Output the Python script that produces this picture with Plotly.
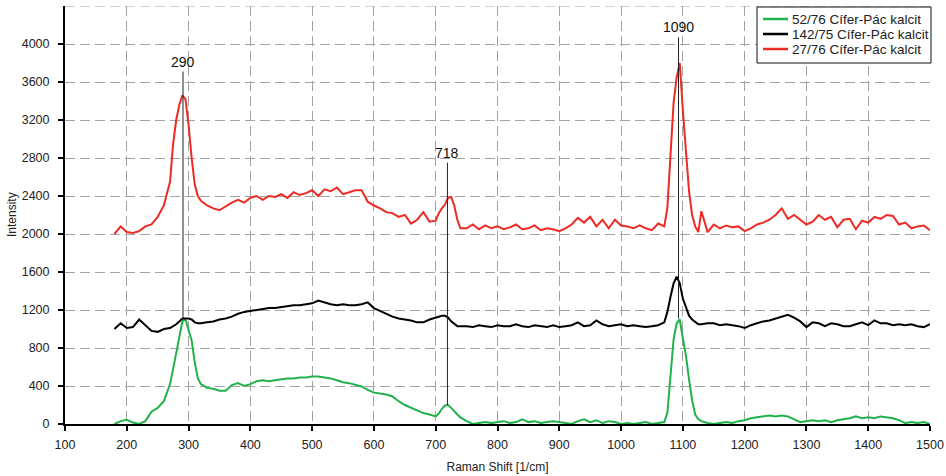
import plotly.graph_objects as go

raman_shift = [180, 190, 200, 210, 220, 230, 240, 250, 260,
               270, 275, 280, 285, 290, 295, 300, 305, 310, 315, 320,
               330, 340, 350, 360, 370, 380, 390, 400, 410, 420, 430, 440, 450, 460, 470, 480, 490,
               500, 510, 520, 530, 540, 550, 560, 570, 580, 590, 600, 610, 620, 630, 640, 650, 660,
               670, 680, 690,
               700, 705, 710, 715, 720, 725, 730, 735, 740,
               750, 760, 770, 780, 790, 800, 810, 820, 830, 840, 850, 860, 870, 880, 890, 900, 910,
               920, 930, 940, 950, 960, 970, 980, 990, 1000, 1010, 1020, 1030, 1040, 1050, 1060,
               1070, 1075, 1080, 1085, 1090, 1095, 1100, 1105, 1110, 1115, 1120, 1125, 1130,
               1140, 1150, 1160, 1170, 1180, 1190, 1200, 1210, 1220, 1230, 1240, 1250, 1260, 1270,
               1280, 1290, 1300, 1310, 1320, 1330, 1340, 1350, 1360, 1370, 1380, 1390, 1400, 1410,
               1420, 1430, 1440, 1450, 1460, 1470, 1480, 1490, 1500]

green_52_76 = [0, 30, 45, 15, 0, 30, 130, 170, 240,
               420, 580, 740, 930, 1080, 1100, 1000, 880, 650, 480, 420,
               380, 370, 350, 350, 410, 430, 400, 420, 450, 460, 450, 460, 470, 480, 480, 490, 490,
               500, 500, 490, 480, 460, 440, 430, 410, 395, 360, 330, 320, 310, 290, 240, 200, 170,
               140, 115, 100,
               80, 110, 160, 195, 200, 170, 130, 100, 70,
               30, 0, 10, 20, 10, 20, 30, 10, 20, 50, 20, 30, 10, 20, 30, 20, 10,
               0, 30, 50, 20, 40, 10, 30, 20, 0, 10, 0, 10, 20, 0, 10,
               20, 120, 550, 890, 1060, 1100, 900, 720, 470, 250, 100, 50, 30,
               10, 0, 10, 20, 10, 30, 40, 60, 70, 80, 90, 80, 90, 80,
               50, 20, 30, 40, 30, 40, 20, 40, 50, 60, 80, 60, 70, 60,
               80, 70, 60, 40, 10, 20, 10, 20, 0]

black_142_75 = [1000, 1060, 1010, 1020, 1100, 1040, 980, 970, 1000,
                1010, 1030, 1050, 1080, 1110, 1110, 1110, 1100, 1070, 1060, 1060,
                1070, 1080, 1100, 1110, 1130, 1160, 1180, 1190, 1200, 1210, 1220, 1220, 1230, 1240,
                1250, 1250, 1260, 1270, 1300, 1280, 1260, 1250, 1260, 1250, 1250, 1260, 1280, 1220,
                1190, 1160, 1130, 1110, 1100, 1090, 1070, 1070, 1100,
                1120, 1130, 1140, 1140, 1120, 1080, 1050, 1030, 1030,
                1030, 1020, 1040, 1030, 1020, 1040, 1030, 1030, 1050, 1030, 1020, 1040, 1030, 1020,
                1040, 1020, 1030, 1040, 1070, 1030, 1040, 1090, 1050, 1030, 1040, 1050, 1030, 1040,
                1030, 1020, 1030, 1040,
                1070, 1180, 1340, 1480, 1550, 1480, 1320, 1220, 1140, 1100, 1070, 1050, 1050,
                1060, 1060, 1040, 1050, 1040, 1030, 1010, 1040, 1060, 1080, 1090, 1110, 1130, 1150,
                1120, 1080, 1020, 1070, 1060, 1030, 1060, 1050, 1030, 1030, 1050, 1070, 1040, 1090,
                1060, 1060, 1040, 1050, 1040, 1050, 1030, 1020, 1050]

red_27_76 = [2000, 2080, 2020, 2010, 2030, 2080, 2100, 2180, 2300,
             2550, 2950, 3200, 3360, 3460, 3420, 3150, 2800, 2520, 2400, 2350,
             2300, 2270, 2250, 2290, 2330, 2360, 2330, 2380, 2400, 2360, 2400, 2390, 2420, 2380,
             2440, 2410, 2430, 2460, 2400, 2470, 2450, 2490, 2420, 2440, 2460, 2460, 2340, 2300,
             2270, 2230, 2220, 2180, 2200, 2110, 2150, 2230, 2130,
             2140, 2220, 2270, 2310, 2380, 2390, 2300, 2150, 2060,
             2060, 2100, 2050, 2090, 2060, 2080, 2050, 2070, 2100, 2050, 2060, 2090, 2040, 2060,
             2050, 2030, 2060, 2100, 2170, 2120, 2180, 2080, 2150, 2060, 2150, 2090, 2080, 2060,
             2090, 2060, 2040, 2110,
             2080, 2280, 2900, 3380, 3650, 3800, 3300, 2850, 2450, 2200, 2080, 2020, 2240,
             2020, 2100, 2060, 2090, 2070, 2080, 2030, 2060, 2100, 2120, 2150, 2200, 2270, 2160,
             2200, 2150, 2100, 2130, 2200, 2150, 2180, 2070, 2150, 2160, 2050, 2140, 2120, 2180,
             2160, 2200, 2190, 2100, 2120, 2060, 2080, 2090, 2040]

series_names = ["52/76 Cífer-Pác kalcit", "142/75 Cífer-Pác kalcit", "27/76 Cífer-Pác kalcit"]
series_colors = ["#22b24c", "#000000", "#ee2a24"]

peak_labels = ["290", "718", "1090"]
peak_x = [291, 719, 1093]
peak_line_bottom = [1100, 200, 1110]
peak_line_top = [3710, 2750, 4070]

y_ticks = [0, 400, 800, 1200, 1600, 2000, 2400, 2800, 3200, 3600, 4000]
x_ticks = [100, 200, 300, 400, 500, 600, 700, 800, 900, 1000, 1100, 1200, 1300, 1400, 1500]

FONT = "Liberation Sans, Arial, sans-serif"
fig = go.Figure()
for name, col, vals in zip(series_names, series_colors, [green_52_76, black_142_75, red_27_76]):
    fig.add_trace(go.Scatter(x=raman_shift, y=vals, mode="lines", name=name,
                             line=dict(color=col, width=2), showlegend=False))

grid = "#a3a3a3"
for lx, lb, lt, txt in zip(peak_x, peak_line_bottom, peak_line_top, peak_labels):
    fig.add_shape(type="line", x0=lx, x1=lx, y0=lb, y1=lt, xref="x", yref="y",
                  line=dict(color="#222222", width=1))
    fig.add_annotation(x=lx, y=lt, text=txt, showarrow=False, yanchor="bottom",
                       xanchor="center", yshift=0,
                       font=dict(family=FONT, size=14, color="#111111"))

# top dashed gridline (no tick label)
fig.add_shape(type="line", x0=0, x1=1, xref="paper", y0=4400, y1=4400, yref="y",
              line=dict(color=grid, width=1.2, dash="10px,5px"), layer="below")

# legend box drawn by hand (plot area: x 65..930 px, y 6..424 px)
def px_x(p):
    return (p - 65) / 865.0

def px_y(p):
    return (424 - p) / 418.0

fig.add_shape(type="rect", xref="paper", yref="paper",
              x0=px_x(757), x1=px_x(931), y0=px_y(63), y1=px_y(7),
              line=dict(color="#111111", width=1), fillcolor="white", layer="above")
for i, (name, col) in enumerate(zip(series_names, series_colors)):
    row = 19 + 15 * i
    fig.add_shape(type="line", xref="paper", yref="paper",
                  x0=px_x(763), x1=px_x(788), y0=px_y(row), y1=px_y(row),
                  line=dict(color=col, width=2.5), layer="above")
    fig.add_annotation(xref="paper", yref="paper", x=px_x(790), y=px_y(row),
                       text=name, showarrow=False, xanchor="left", yanchor="middle",
                       font=dict(family=FONT, size=13.5, color="#222222"))

# y-axis title placed as rotated text
fig.add_annotation(xref="paper", yref="paper", x=px_x(12), y=px_y(215),
                   text="Intensity", textangle=-90, showarrow=False,
                   xanchor="center", yanchor="middle",
                   font=dict(family=FONT, size=12, color="#222222"))

fig.update_layout(
    width=946, height=476,
    margin=dict(l=65, r=16, t=6, b=52),
    paper_bgcolor="white", plot_bgcolor="white",
    font=dict(family=FONT, size=12, color="#222222"),
    showlegend=False,
)
fig.update_xaxes(range=[100, 1500], tickvals=x_ticks, ticks="outside", ticklen=5,
                 tickwidth=1.5, tickcolor="black", showline=True, linecolor="black",
                 linewidth=2, showgrid=True, gridcolor=grid, gridwidth=1.2,
                 griddash="10px,5px", zeroline=False, ticklabelstandoff=3, automargin=False,
                 tickfont=dict(size=12.5),
                 title=dict(text="Raman Shift [1/cm]", font=dict(size=12), standoff=12))
fig.update_yaxes(range=[0, 4400], tickvals=y_ticks, ticks="outside", ticklen=5,
                 tickwidth=1.5, tickcolor="black", showline=True, linecolor="black",
                 linewidth=2, showgrid=True, gridcolor=grid, gridwidth=1.2,
                 griddash="10px,5px", zeroline=False, ticklabelstandoff=6, automargin=False,
                 tickfont=dict(size=12.5))

fig.write_html("out.html", config={"displayModeBar": False},
               post_script="document.body.style.margin='0';document.body.style.overflow='hidden';")
